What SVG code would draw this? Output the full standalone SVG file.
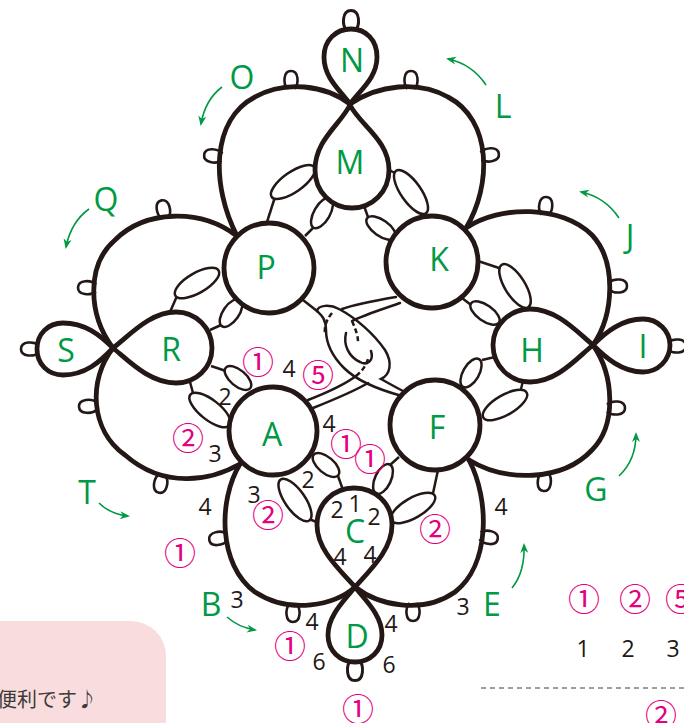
<svg xmlns="http://www.w3.org/2000/svg" width="684" height="723" viewBox="0 0 684 723">
<style>
.ch{fill:none;stroke:#231815;stroke-width:4.8;stroke-linecap:round;stroke-linejoin:round}
.rg{fill:#fff;stroke:#231815;stroke-width:4.8}
.td{fill:#fff;stroke:#231815;stroke-width:4.8;stroke-linejoin:miter;stroke-miterlimit:10}
.ov{fill:#fff;stroke:#231815;stroke-width:2.5}
.st{fill:none;stroke:#231815;stroke-width:2.5}
.pc{fill:#fff;stroke:#231815;stroke-width:2.6}
.tg{fill:none;stroke:#231815;stroke-width:2.5;stroke-linecap:round}
.dh{fill:none;stroke:#231815;stroke-width:2.5;stroke-dasharray:5 3}
.lb{font-family:"Open Sans","Noto Sans",sans-serif;font-size:32px;fill:#009944;text-anchor:middle}
.nm{font-family:"Open Sans","Noto Sans",sans-serif;font-size:23px;fill:#231815;text-anchor:middle}
.cn{font-family:"Noto Sans CJK JP",sans-serif;font-size:32px;fill:#e4007f;text-anchor:middle;dominant-baseline:central}
.ar{fill:none;stroke:#009944;stroke-width:1.6;marker-end:url(#ah)}
</style>
<defs>
<path id="pic" d="M-3.5,1 C-8,-4 -8,-17 0,-17 C8,-17 8,-4 3.5,1"/>
<marker id="ah" viewBox="0 0 10 10" refX="8" refY="5" markerWidth="10" markerHeight="10" markerUnits="userSpaceOnUse" orient="auto"><path d="M0,1 L10,5 L0,9 L3,5 Z" fill="#009944"/></marker>
</defs>

<g id="note-box">
<path d="M-1,621 H131 A35,35 0 0 1 166,656 V724 H-1 Z" fill="#f9dcdd"/>
<text x="-3" y="707" font-family="Noto Sans CJK JP,sans-serif" font-size="20" fill="#3e3a39">便利です♪</text>
</g>

<g id="joins">
<line class="st" x1="267" y1="222" x2="275" y2="197"/>
<ellipse class="ov" cx="293" cy="182" rx="26" ry="10" transform="rotate(-35 293 182)"/>
<line class="st" x1="305" y1="236" x2="314" y2="227"/>
<ellipse class="ov" cx="322" cy="213" rx="17" ry="8" transform="rotate(-60 322 213)"/>
<line class="st" x1="389" y1="170" x2="397" y2="174"/>
<ellipse class="ov" cx="411" cy="192" rx="26" ry="10" transform="rotate(55 411 192)"/>
<line class="st" x1="364" y1="206" x2="368" y2="217"/>
<ellipse class="ov" cx="381" cy="228" rx="17" ry="8" transform="rotate(35 381 228)"/>
<line class="st" x1="478" y1="261" x2="499" y2="268"/>
<ellipse class="ov" cx="515" cy="286" rx="25" ry="10" transform="rotate(58 515 286)"/>
<line class="st" x1="462" y1="298" x2="471" y2="305"/>
<ellipse class="ov" cx="485" cy="313" rx="17" ry="8" transform="rotate(35 485 313)"/>
<line class="st" x1="170" y1="312" x2="177" y2="296"/>
<ellipse class="ov" cx="197" cy="283" rx="25" ry="10" transform="rotate(-30 197 283)"/>
<line class="st" x1="210" y1="330" x2="221" y2="325"/>
<ellipse class="ov" cx="231" cy="313" rx="16" ry="8" transform="rotate(-55 231 313)"/>
<line class="st" x1="211" y1="366" x2="226" y2="371"/>
<ellipse class="ov" cx="238" cy="378" rx="16" ry="8" transform="rotate(40 238 378)"/>
<line class="st" x1="190" y1="382" x2="193" y2="393"/>
<ellipse class="ov" cx="210" cy="410" rx="25" ry="10" transform="rotate(38 210 410)"/>
<line class="st" x1="338" y1="476" x2="343" y2="490"/>
<ellipse class="ov" cx="326" cy="465" rx="16" ry="8" transform="rotate(40 326 465)"/>
<line class="st" x1="309" y1="519" x2="319" y2="523"/>
<ellipse class="ov" cx="295" cy="500" rx="25" ry="10" transform="rotate(55 295 500)"/>
<line class="st" x1="399" y1="457" x2="390" y2="465"/>
<ellipse class="ov" cx="383" cy="479" rx="16" ry="8" transform="rotate(-65 383 479)"/>
<line class="st" x1="432" y1="498" x2="438" y2="470"/>
<ellipse class="ov" cx="413" cy="508" rx="25" ry="10" transform="rotate(-30 413 508)"/>
<line class="st" x1="482" y1="360" x2="495" y2="357"/>
<ellipse class="ov" cx="471" cy="373" rx="16" ry="8" transform="rotate(-60 471 373)"/>
<line class="st" x1="520" y1="393" x2="523" y2="381"/>
<ellipse class="ov" cx="505" cy="405" rx="25" ry="10" transform="rotate(-30 505 405)"/>
</g>

<g id="picots">
<use href="#pic" class="pc" transform="translate(291,88) rotate(0)"/>
<use href="#pic" class="pc" transform="translate(221,157) rotate(-82)"/>
<use href="#pic" class="pc" transform="translate(411,88) rotate(0)"/>
<use href="#pic" class="pc" transform="translate(482,156) rotate(82)"/>
<use href="#pic" class="pc" transform="translate(545,214) rotate(5)"/>
<use href="#pic" class="pc" transform="translate(610,286) rotate(90)"/>
<use href="#pic" class="pc" transform="translate(165,217) rotate(-12)"/>
<use href="#pic" class="pc" transform="translate(95,288) rotate(-88)"/>
<use href="#pic" class="pc" transform="translate(96,406) rotate(-92)"/>
<use href="#pic" class="pc" transform="translate(162,476) rotate(190)"/>
<use href="#pic" class="pc" transform="translate(226,537) rotate(-100)"/>
<use href="#pic" class="pc" transform="translate(293,605) rotate(180)"/>
<use href="#pic" class="pc" transform="translate(413,604) rotate(180)"/>
<use href="#pic" class="pc" transform="translate(481,536) rotate(100)"/>
<use href="#pic" class="pc" transform="translate(545,474) rotate(185)"/>
<use href="#pic" class="pc" transform="translate(608,408) rotate(90)"/>
<use href="#pic" class="pc" transform="translate(351,30) scale(1.15)"/>
<use href="#pic" class="pc" transform="translate(355,661) rotate(180) scale(1.15)"/>
<use href="#pic" class="pc" transform="translate(38,349) rotate(-90)"/>
<use href="#pic" class="pc" transform="translate(669,346) rotate(90)"/>
</g>

<g id="chains">
<path class="ch" d="M237,236 C211,185 211,120 255,97 C285,80 325,85 350,104"/>
<path class="ch" d="M466,228 C492,185 492,120 448,97 C418,80 378,85 350,104"/>
<path class="ch" d="M466,228 C500,205 562,205 592,235 C617,262 614,315 593,345"/>
<path class="ch" d="M237,236 C200,208 145,210 115,240 C86,265 88,315 113,348"/>
<path class="ch" d="M113,348 C88,380 90,430 125,455 C165,490 212,480 240,464"/>
<path class="ch" d="M240,464 C218,500 218,565 255,592 C290,615 335,605 355,587"/>
<path class="ch" d="M355,587 C378,605 422,615 455,592 C490,565 490,500 469,460"/>
<path class="ch" d="M469,460 C505,482 562,482 592,450 C617,425 614,375 593,345"/>
</g>

<g id="center-links">
<path class="tg" d="M303,300 L317,311"/>
<path class="tg" d="M402,396 C380,390 356,380 344,368 C330,354 326,342 326,330 C326,318 320,314 317,311 C318,305 330,304 339,309 C356,318 374,334 385,350 C393,363 390,375 381,379 C390,384 397,388 403,391"/>
<path class="tg" d="M396,297 C378,300 356,304 342,309"/>
<path class="tg" d="M400,303 C383,309 364,315 352,321"/>
<path class="dh" d="M352,321 C356,330 358,336 358,342"/>
<path class="dh" d="M332,313 C327,319 324,326 325,333"/>
<path class="tg" d="M346,333 C343,345 349,357 360,362 C368,366 374,360 371,351"/>
<path class="tg" d="M308,400 C326,393 344,385 356,376"/>
<path class="tg" d="M313,408 C333,400 353,392 368,383"/>
<path class="dh" d="M356,376 C362,371 366,366 368,359"/>
</g>

<g id="node-P"><circle class="rg" cx="269" cy="268" r="45"/><text class="lb" x="266" y="279">P</text></g>
<g id="node-K"><circle class="rg" cx="432" cy="262" r="46"/><text class="lb" x="439" y="271">K</text></g>
<g id="node-A"><circle class="rg" cx="273" cy="431" r="44"/><text class="lb" x="272" y="446">A</text></g>
<g id="node-F"><circle class="rg" cx="435" cy="425" r="45"/><text class="lb" x="437" y="439">F</text></g>

<g id="node-M"><path class="td" d="M350,105 C340,125 315,140 315,170 C315,192 332,208 352,208 C372,208 389,192 389,170 C389,140 360,125 350,105 Z"/><text class="lb" x="350" y="174">M</text></g>
<g id="node-N"><path class="td" d="M350,104 C340,90 324,78 324,57 C324,40 336,29 351,29 C366,29 377,40 377,57 C377,78 360,90 350,104 Z"/><text class="lb" x="352" y="72">N</text></g>
<g id="node-C"><path class="td" d="M355,587 C340,570 317,550 317,525 C317,503 334,488 354,488 C375,488 392,503 392,525 C392,550 370,570 355,587 Z"/><text class="lb" x="355" y="543">C</text></g>
<g id="node-D"><path class="td" d="M355,587 C345,600 328,615 328,635 C328,651 340,662 355,662 C370,662 382,651 382,635 C382,615 365,600 355,587 Z"/><text class="lb" x="357" y="648">D</text></g>
<g id="node-R"><path class="td" d="M113,348 C130,335 150,312 176,312 C196,312 212,328 212,348 C212,368 196,383 176,383 C150,383 130,362 113,348 Z"/><text class="lb" x="171" y="361">R</text></g>
<g id="node-S"><path class="td" d="M113,348 C100,335 85,323 63,323 C48,323 37,334 37,349 C37,364 48,375 63,375 C85,375 100,362 113,348 Z"/><text class="lb" x="66" y="362">S</text></g>
<g id="node-H"><path class="td" d="M593,345 C577,332 557,309 530,309 C510,309 493,325 493,345 C493,366 510,382 530,382 C557,382 577,358 593,345 Z"/><text class="lb" x="532" y="362">H</text></g>
<g id="node-I"><path class="td" d="M593,345 C606,332 622,319 643,319 C658,319 670,331 670,345 C670,360 658,372 643,372 C622,372 606,358 593,345 Z"/><text class="lb" x="643" y="358">I</text></g>

<g id="chain-labels">
<text class="lb" x="242" y="89">O</text>
<text class="lb" x="503" y="118">L</text>
<text class="lb" x="106" y="211">Q</text>
<text class="lb" x="630" y="248">J</text>
<text class="lb" x="87" y="504">T</text>
<text class="lb" x="596" y="501">G</text>
<text class="lb" x="211" y="616">B</text>
<text class="lb" x="492" y="616">E</text>
</g>

<g id="arrows">
<path class="ar" d="M222,87 Q205,100 201,124"/>
<path class="ar" d="M89,209 Q71,222 66,247"/>
<path class="ar" d="M486,85 Q472,64 448,59"/>
<path class="ar" d="M619,218 Q605,197 581,192"/>
<path class="ar" d="M99,503 Q110,514 128,516"/>
<path class="ar" d="M227,617 Q238,627 255,630"/>
<path class="ar" d="M512,588 Q525,572 524,545"/>
<path class="ar" d="M619,476 Q636,460 636,434"/>
</g>

<g id="counts">
<text class="nm" x="225" y="405">2</text>
<text class="nm" x="215" y="462">3</text>
<text class="nm" x="205" y="515">4</text>
<text class="nm" x="237" y="608">3</text>
<text class="nm" x="312" y="630">4</text>
<text class="nm" x="319" y="670">6</text>
<text class="nm" x="329" y="432">4</text>
<text class="nm" x="254" y="503">3</text>
<text class="nm" x="308" y="488">2</text>
<text class="nm" x="289" y="377">4</text>
<text class="nm" x="337" y="518">2</text>
<text class="nm" x="355" y="512">1</text>
<text class="nm" x="374" y="525">2</text>
<text class="nm" x="340" y="565">4</text>
<text class="nm" x="370" y="563">4</text>
<text class="nm" x="391" y="632">4</text>
<text class="nm" x="389" y="673">6</text>
<text class="nm" x="463" y="615">3</text>
<text class="nm" x="501" y="515">4</text>
</g>

<g id="picot-sizes">
<text class="cn" x="258" y="360">①</text>
<text class="cn" x="318" y="373">⑤</text>
<text class="cn" x="188" y="436">②</text>
<text class="cn" x="268" y="513">②</text>
<text class="cn" x="180" y="551">①</text>
<text class="cn" x="290" y="644">①</text>
<text class="cn" x="346" y="442">①</text>
<text class="cn" x="370" y="457">①</text>
<text class="cn" x="435" y="527">②</text>
<text class="cn" x="358" y="707">①</text>
</g>

<g id="legend">
<text class="cn" x="584" y="597">①</text>
<text class="cn" x="635" y="597">②</text>
<text class="cn" x="681" y="597">⑤</text>
<text class="nm" x="583" y="657">1</text>
<text class="nm" x="628" y="657">2</text>
<text class="nm" x="673" y="657">3</text>
<line x1="481" y1="688" x2="684" y2="688" stroke="#3e3a39" stroke-width="1" stroke-dasharray="5 4"/>
<text class="cn" x="661" y="713">②</text>
</g>
</svg>
